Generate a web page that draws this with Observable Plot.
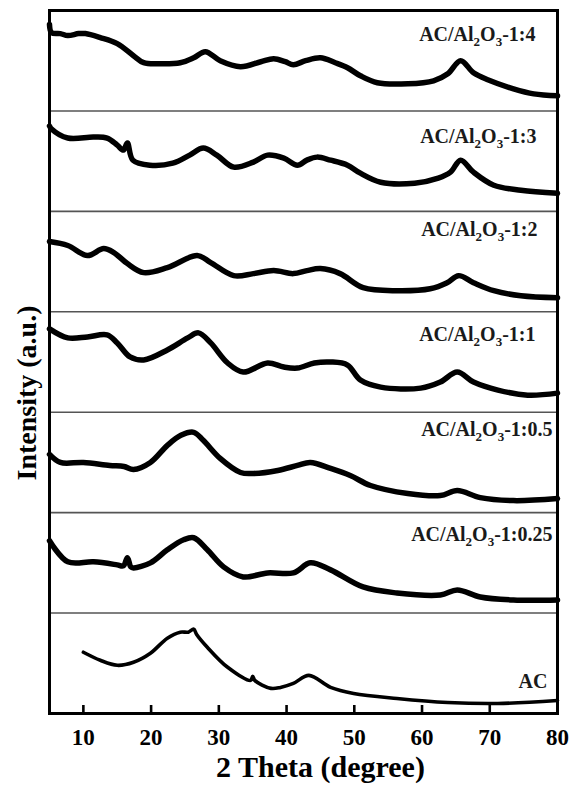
<!DOCTYPE html>
<html>
<head>
<meta charset="utf-8">
<script src="https://cdn.jsdelivr.net/npm/d3@7"></script>
<script src="https://cdn.jsdelivr.net/npm/@observablehq/plot@0.6"></script>
<style>
  body { margin: 0; background: #fff; }
  #chart svg { display: block; }
</style>
</head>
<body>
<div id="chart"></div>
<script>
// ---------- data (2θ in degrees, intensity in a.u., each pattern on a 0–100 scale) ----------
const seriesNames = [
  "AC/Al2O3-1:4",
  "AC/Al2O3-1:3",
  "AC/Al2O3-1:2",
  "AC/Al2O3-1:1",
  "AC/Al2O3-1:0.5",
  "AC/Al2O3-1:0.25",
  "AC"
];

const xTicks = [10, 20, 30, 40, 50, 60, 70, 80];

const s1to4 = [[5.0,86],[5.3,78],[6.6,77],[7.7,75],[9.3,77],[10.3,77],[12.5,73],[15.0,67],[17.4,55],[18.9,48],[21.4,47],[24.3,48],[26.3,53],[28.0,59],[30.2,50],[33.2,44],[36.2,49],[38.1,52],[39.8,49],[41.0,46],[42.8,50],[45.0,53],[47.2,48],[49.0,43],[50.9,35],[53.4,28],[57.9,27],[61.7,30],[63.8,37],[65.7,50],[67.6,38],[69.7,31],[73.5,22],[76.5,17],[80.0,15]];

const s1to3 = [[5.0,85],[5.3,82],[7.7,73],[11.5,74],[13.5,73],[15.0,66],[15.9,61],[16.5,68],[17.3,51],[19.8,46],[23.2,48],[25.7,56],[27.7,63],[29.7,56],[32.2,44],[35.1,49],[37.2,56],[39.6,53],[41.6,46],[43.0,51],[44.5,54],[46.5,51],[49.0,46],[50.9,38],[53.9,29],[58.9,28],[62.4,33],[64.2,39],[65.7,51],[67.6,39],[70.6,26],[74.6,21],[80.0,18]];

const s1to2 = [[5.0,70],[7.7,66],[10.6,56],[13.0,63],[14.5,59],[16.5,48],[18.9,39],[22.4,44],[26.8,56],[28.8,49],[32.2,36],[35.1,38],[38.1,41],[41.0,38],[43.0,41],[45.0,43],[47.9,38],[51.3,24],[56.3,21],[61.2,23],[63.7,29],[65.4,36],[67.6,29],[70.6,21],[74.6,16],[80.0,14]];

const s1to1 = [[5.0,83],[7.7,74],[10.6,75],[13.5,77],[15.0,69],[16.9,55],[18.9,52],[22.4,62],[25.4,74],[27.0,79],[28.8,69],[31.3,49],[33.6,40],[37.2,49],[39.6,45],[41.6,44],[44.1,49],[46.5,50],[49.0,47],[50.9,32],[53.9,25],[59.8,24],[62.7,30],[65.2,40],[67.6,30],[71.2,22],[75.6,17],[80.0,19]];

const s1to05 = [[5.0,58],[6.6,50],[10.0,50],[13.9,47],[16.0,46],[17.4,43],[19.9,50],[22.4,67],[24.4,77],[26.3,80],[27.7,72],[30.2,54],[33.2,40],[35.1,39],[38.7,42],[41.6,47],[43.5,50],[46.5,44],[49.4,37],[52.4,27],[57.9,19],[62.7,17],[65.2,22],[68.6,15],[73.5,12],[80.0,14]];

const s1to025 = [[5.0,72],[7.7,51],[11.5,51],[15.0,48],[15.9,47],[16.5,55],[17.0,46],[17.4,45],[19.9,50],[22.4,63],[24.8,73],[26.3,75],[28.3,63],[30.7,46],[33.6,36],[37.2,40],[41.0,40],[43.5,50],[46.5,43],[51.3,26],[56.3,20],[62.7,18],[65.2,23],[68.6,16],[73.5,13],[80.0,13]];

const sAC = [[10.0,61],[12.5,53],[15.0,48],[17.4,51],[19.9,60],[22.4,75],[24.3,81],[25.5,81],[26.3,84],[26.7,79],[28.3,66],[31.3,46],[34.7,33],[35.0,37],[35.3,33],[37.7,25],[39.1,26],[41.0,30],[43.3,38],[46.5,26],[49.9,20],[56.3,15],[63.8,11],[71.2,10],[80.0,13]];

const seriesValues = [s1to4, s1to3, s1to2, s1to1, s1to05, s1to025, sAC];

// ---------- layout ----------
const W = 573, H = 785;
const mL = 49, mR = 16, mT = 10, mB = 72;
const panelSpan = 100;                 // a.u. per stacked panel
const nPanels = seriesNames.length;
// label offsets from frame top-right (px): [dx, dy of text centre]
const labelOffsets = [[-22,24],[-21,126],[-20,219],[-22,324],[-5,419],[-5,524],[-10,671]];

const rows = seriesValues.flatMap((pts, i) =>
  pts.map(([t, v]) => ({
    name: seriesNames[i],
    theta: t,
    y: v + (nPanels - 1 - i) * panelSpan,
    isAC: seriesNames[i] === "AC"
  }))
);
const separators = d3.range(1, nPanels).map(k => k * panelSpan);

const font = "Liberation Serif, Times New Roman, serif";
const frameH = H - mT - mB;

const plot = Plot.plot({
  width: W,
  height: H,
  marginLeft: mL,
  marginRight: mR,
  marginTop: mT,
  marginBottom: mB,
  style: { fontFamily: font, background: "#fff", color: "#000" },
  x: { domain: [5, 80] },
  y: { domain: [0, nPanels * panelSpan], axis: null },
  marks: [
    Plot.ruleY(separators, { stroke: "#555", strokeWidth: 1.6 }),
    Plot.line(rows.filter(d => !d.isAC), {
      x: "theta", y: "y", z: "name",
      stroke: "#000", strokeWidth: 5.5, strokeLinejoin: "round", strokeLinecap: "round",
      curve: "catmull-rom"
    }),
    Plot.line(rows.filter(d => d.isAC), {
      x: "theta", y: "y", z: "name",
      stroke: "#000", strokeWidth: 3.6, strokeLinejoin: "round", strokeLinecap: "round",
      curve: "catmull-rom"
    }),
    // inward tick marks on the bottom axis
    Plot.ruleX(xTicks, { stroke: "#000", strokeWidth: 2.6, insetTop: frameH - 8 }),
    Plot.axisX(xTicks, {
      tickSize: 0, tickPadding: 15, fontSize: 23, fontWeight: "bold",
      label: null, tickFormat: d => String(d)
    }),
    Plot.frame({ stroke: "#000", strokeWidth: 3 }),
    // series labels
    ...seriesNames.map((name, i) =>
      Plot.text([name], {
        text: d => d,
        frameAnchor: "top-right",
        textAnchor: "end",
        lineAnchor: "middle",
        dx: labelOffsets[i][0],
        dy: labelOffsets[i][1],
        fontSize: 20,
        fontWeight: "bold",
        fill: "#1a1a1a"
      })
    ),
    // axis titles
    Plot.text(["2 Theta (degree)"], {
      text: d => d, frameAnchor: "bottom", lineAnchor: "middle",
      dx: 17, dy: 54, fontSize: 30, fontWeight: "bold"
    }),
    Plot.text(["Intensity (a.u.)"], {
      text: d => d, frameAnchor: "left", lineAnchor: "middle", textAnchor: "middle",
      rotate: -90, dx: -22, dy: 31, fontSize: 28, fontWeight: "bold"
    })
  ]
});

// subscripts in Al2O3
const NS = "http://www.w3.org/2000/svg";
plot.querySelectorAll("text").forEach(t => {
  const s = t.textContent;
  const m = s.match(/^(.*Al)2O3(.*)$/);
  if (!m) return;
  t.textContent = "";
  const add = (txt, attrs) => {
    const ts = document.createElementNS(NS, "tspan");
    ts.textContent = txt;
    for (const k in attrs) ts.setAttribute(k, attrs[k]);
    t.appendChild(ts);
  };
  add(m[1], {});
  add("2", { "font-size": 13, dy: 5 });
  add("O", { dy: -5 });
  add("3", { "font-size": 13, dy: 5 });
  add(m[2], { dy: -5 });
});

document.getElementById("chart").appendChild(plot);
</script>
</body>
</html>
